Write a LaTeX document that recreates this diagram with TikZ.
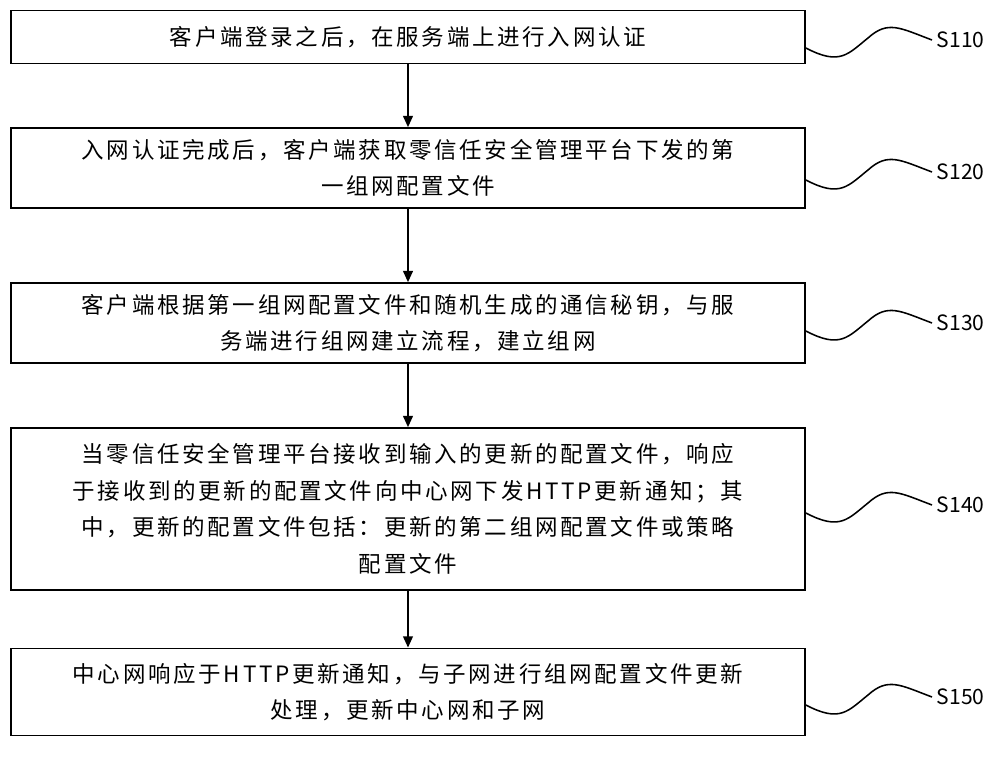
\documentclass[tikz,border=0pt]{standalone}
\usepackage{fontspec}
\setmainfont{Noto Sans CJK SC}[LetterSpace=12]
\usetikzlibrary{arrows.meta}
\tikzset{
  stepbox/.style={draw=black, line width=1.2pt, minimum width=19.85cm, text width=19.2cm, align=center, font=\fontsize{16}{26}\selectfont},
  flow/.style={-{Triangle[length=8pt,width=7pt]}, line width=1.1pt},
  wave/.style={line width=1.1pt},
  tag/.style={font=\fontsize{15}{18}\selectfont, anchor=west}
}
\begin{document}
\begin{tikzpicture}[x=0.025cm, y=-0.025cm]
  \useasboundingbox (0,0) rectangle (1000,760);
  \node[stepbox, minimum height=1.32cm] (s110) at (408,37) {客户端登录之后，在服务端上进行入网认证};
  \node[stepbox, minimum height=2cm] (s120) at (408,168) {入网认证完成后，客户端获取零信任安全管理平台下发的第\\一组网配置文件};
  \node[stepbox, minimum height=2cm] (s130) at (408,323) {客户端根据第一组网配置文件和随机生成的通信秘钥，与服\\务端进行组网建立流程，建立组网};
  \node[stepbox, minimum height=4.05cm] (s140) at (408,509) {当零信任安全管理平台接收到输入的更新的配置文件，响应\\于接收到的更新的配置文件向中心网下发HTTP更新通知；其\\中，更新的配置文件包括：更新的第二组网配置文件或策略\\配置文件};
  \node[stepbox, minimum height=2.18cm] (s150) at (408,692) {中心网响应于HTTP更新通知，与子网进行组网配置文件更新\\处理，更新中心网和子网};

  \draw[flow] (s110) -- (s120);
  \draw[flow] (s120) -- (s130);
  \draw[flow] (s130) -- (s140);
  \draw[flow] (s140) -- (s150);

  % step labels with wavy leaders
  \foreach \nm/\lab/\y in {s110/S110/40, s120/S120/172, s130/S130/323, s140/S140/505, s150/S150/697} {
    \node[tag, font=\fontsize{15}{18}\fontspec{Noto Sans CJK SC}] (t\nm) at (932,\y) {\lab};
    \draw[wave] (\nm.east |- 0,\y+8) .. controls (840,\y+26) and (848,\y+14) .. (868,\y-2)
      .. controls (888,\y-20) and (900,\y-12) .. (t\nm.west);
  }
\end{tikzpicture}
\end{document}
